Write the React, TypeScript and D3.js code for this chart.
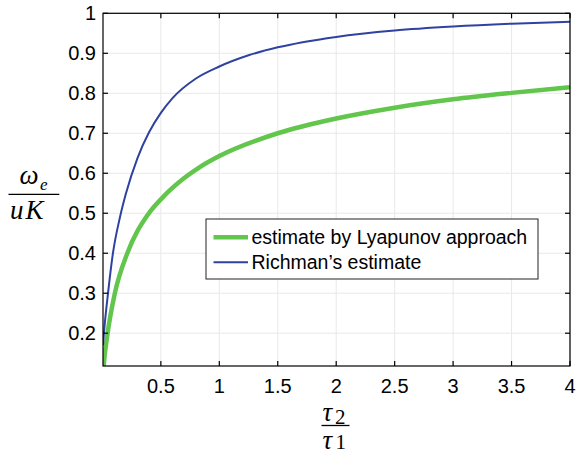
import React from 'react'
import * as d3 from 'd3'

// values (x = tau2/tau1, y = omega_e/(uK))
const lyapunovX = [0.008, 0.011, 0.042, 0.105, 0.213, 0.39, 0.52, 0.7, 0.82, 1, 1.5, 2, 2.5, 3, 3.5, 4]
const lyapunovY = [0.105, 0.118, 0.195, 0.298, 0.4, 0.497, 0.541, 0.588, 0.613, 0.643, 0.7, 0.737, 0.764, 0.785, 0.801, 0.815]

const richmanX = [0.005, 0.013, 0.048, 0.09, 0.15, 0.2, 0.3, 0.4, 0.5, 0.6, 0.8, 1, 1.25, 1.5, 2, 2.5, 3, 3.5, 4]
const richmanY = [0.17, 0.2, 0.3, 0.4, 0.49, 0.548, 0.638, 0.703, 0.751, 0.788, 0.837, 0.867, 0.895, 0.915, 0.941, 0.957, 0.967, 0.974, 0.979]

const xTicks = [0.5, 1, 1.5, 2, 2.5, 3, 3.5, 4]
const yTicks = [0.2, 0.3, 0.4, 0.5, 0.6, 0.7, 0.8, 0.9, 1]

const legendLabels = ['estimate by Lyapunov approach', 'Richman\u2019s estimate']
const GREEN = '#62c54c'
const BLUE = '#2f42a0'

const W = 578
const H = 459
const left = 103
const right = 570
const top = 13.3
const bottom = 366

const sansFont = '"Liberation Sans", Arial, Helvetica, sans-serif'
const serifFont = '"Liberation Serif", "Times New Roman", serif'

export default function App () {
  const x = d3.scaleLinear().domain([0.005, 4]).range([left, right])
  const y = d3.scaleLinear().domain([0.118, 1]).range([bottom, top])

  const line = d3.line<[number, number]>()
    .x(d => x(d[0]))
    .y(d => y(d[1]))
    .curve(d3.curveMonotoneX)

  const green = line(lyapunovX.map((v, i) => [v, lyapunovY[i]]))
  const blue = line(richmanX.map((v, i) => [v, richmanY[i]]))

  const tickLen = 5

  return (
    <svg width={W} height={H} style={{ position: 'absolute', left: 0, top: 0, background: '#fff' }}>
      <defs>
        <clipPath id='plot'>
          <rect x={left} y={top} width={right - left} height={bottom - top} />
        </clipPath>
      </defs>
      <rect x={0} y={0} width={W} height={H} fill='#fff' />

      {/* grid */}
      <g stroke='#e8e8e8' strokeWidth={1}>
        {xTicks.map(t => <line key={'gx' + t} x1={x(t)} x2={x(t)} y1={top} y2={bottom} />)}
        {yTicks.map(t => <line key={'gy' + t} x1={left} x2={right} y1={y(t)} y2={y(t)} />)}
      </g>

      {/* curves */}
      <g clipPath='url(#plot)' fill='none' strokeLinejoin='round'>
        <path d={green || ''} stroke={GREEN} strokeWidth={4.5} />
        <path d={blue || ''} stroke={BLUE} strokeWidth={2} />
      </g>

      {/* box and ticks */}
      <g stroke='#000' strokeWidth={1.2}>
        <rect x={left} y={top} width={right - left} height={bottom - top} fill='none' />
        {xTicks.map(t => (
          <g key={'tx' + t}>
            <line x1={x(t)} x2={x(t)} y1={bottom} y2={bottom - tickLen} />
            <line x1={x(t)} x2={x(t)} y1={top} y2={top + tickLen} />
          </g>
        ))}
        {yTicks.map(t => (
          <g key={'ty' + t}>
            <line x1={left} x2={left + tickLen} y1={y(t)} y2={y(t)} />
            <line x1={right} x2={right - tickLen} y1={y(t)} y2={y(t)} />
          </g>
        ))}
      </g>

      {/* tick labels */}
      <g fontFamily={sansFont} fontSize={20} fill='#000'>
        {xTicks.map(t => (
          <text key={'lx' + t} x={x(t)} y={392.5} textAnchor='middle'>{String(t)}</text>
        ))}
        {yTicks.map(t => (
          <text key={'ly' + t} x={96} y={y(t) + 7} textAnchor='end'>{String(t)}</text>
        ))}
      </g>

      {/* x label: tau2 / tau1 */}
      <g fontFamily={serifFont} fill='#000'>
        <text x={322.5} y={421} fontSize={27} fontStyle='italic'>τ</text>
        <text x={335} y={424} fontSize={21}>2</text>
        <line x1={321.5} x2={349.5} y1={425.5} y2={425.5} stroke='#000' strokeWidth={1.3} />
        <text x={322.5} y={449} fontSize={27} fontStyle='italic'>τ</text>
        <text x={335.5} y={449} fontSize={21}>1</text>
      </g>

      {/* y label: omega_e / uK */}
      <g fontFamily={serifFont} fill='#000' fontStyle='italic'>
        <text x={19.5} y={183.5} fontSize={27}>ω</text>
        <text x={40} y={190} fontSize={17}>e</text>
        <line x1={8.5} x2={59.3} y1={194.3} y2={194.3} stroke='#000' strokeWidth={1.3} />
        <text x={10} y={218.5} fontSize={27}>u</text>
        <text x={25.5} y={218.5} fontSize={27}>K</text>
      </g>

      {/* legend */}
      <g>
        <rect x={206} y={219} width={332} height={60} fill='#fff' stroke='#222' strokeWidth={1} />
        {legendLabels.map((lab, i) => {
          const cy = 237.3 + i * 25
          return (
            <g key={lab}>
              <line x1={213.5} x2={248} y1={cy} y2={cy} stroke={i === 0 ? GREEN : BLUE} strokeWidth={i === 0 ? 4.5 : 2} />
              <text x={251.5} y={cy + 7} fontFamily={sansFont} fontSize={19.5} fill='#000'>{lab}</text>
            </g>
          )
        })}
      </g>
    </svg>
  )
}
